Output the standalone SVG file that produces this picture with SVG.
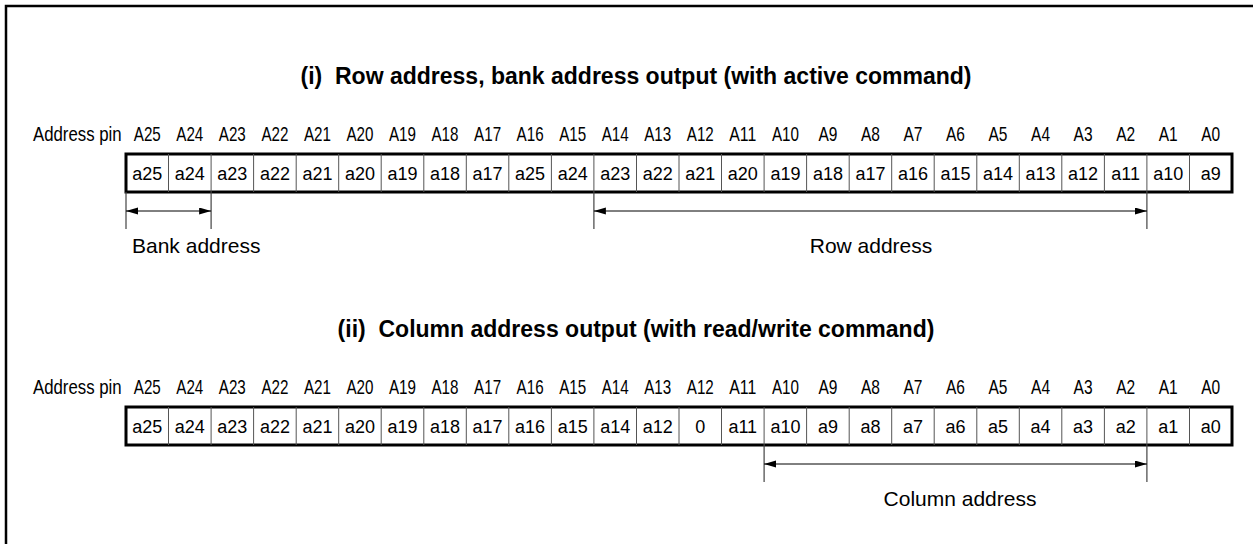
<svg xmlns="http://www.w3.org/2000/svg" width="1253" height="544" viewBox="0 0 1253 544">
<style>
text{font-family:"Liberation Sans",Arial,sans-serif;fill:#000}
.title{font-size:23px;font-weight:bold;text-anchor:middle}
.pin{font-size:21px;text-anchor:middle}
.pinlab{font-size:21px}
.cell{font-size:18px;text-anchor:middle}
.lab{font-size:21px}
.frame{fill:none;stroke:#000;stroke-width:2.5}
.tbl{fill:#fff;stroke:#000;stroke-width:3}
.div{fill:none;stroke:#555;stroke-width:1}
.tick{fill:none;stroke:#444;stroke-width:1.2}
.arr{fill:none;stroke:#000;stroke-width:1;marker-start:url(#ah);marker-end:url(#ah)}
</style>
<defs>
<marker id="ah" markerUnits="userSpaceOnUse" markerWidth="13" markerHeight="8" refX="12" refY="3.5" orient="auto-start-reverse">
<path d="M0,0 L12,3.5 L0,7 z" fill="#000"/>
</marker>
</defs>
<rect class="frame" x="6" y="6" width="1260" height="560"/>

<g id="section1">
<text class="title" x="636" y="84" xml:space="preserve">(i)  Row address, bank address output (with active command)</text>
<g id="pins1">
<text class="pinlab" transform="translate(33,141) scale(0.8,1)">Address pin</text>
<text class="pin" y="141" textLength="27" lengthAdjust="spacingAndGlyphs" x="147.3">A25</text>
<text class="pin" y="141" textLength="27" lengthAdjust="spacingAndGlyphs" x="189.8">A24</text>
<text class="pin" y="141" textLength="27" lengthAdjust="spacingAndGlyphs" x="232.3">A23</text>
<text class="pin" y="141" textLength="27" lengthAdjust="spacingAndGlyphs" x="274.9">A22</text>
<text class="pin" y="141" textLength="27" lengthAdjust="spacingAndGlyphs" x="317.4">A21</text>
<text class="pin" y="141" textLength="27" lengthAdjust="spacingAndGlyphs" x="360.0">A20</text>
<text class="pin" y="141" textLength="27" lengthAdjust="spacingAndGlyphs" x="402.5">A19</text>
<text class="pin" y="141" textLength="27" lengthAdjust="spacingAndGlyphs" x="445.0">A18</text>
<text class="pin" y="141" textLength="27" lengthAdjust="spacingAndGlyphs" x="487.6">A17</text>
<text class="pin" y="141" textLength="27" lengthAdjust="spacingAndGlyphs" x="530.1">A16</text>
<text class="pin" y="141" textLength="27" lengthAdjust="spacingAndGlyphs" x="572.7">A15</text>
<text class="pin" y="141" textLength="27" lengthAdjust="spacingAndGlyphs" x="615.2">A14</text>
<text class="pin" y="141" textLength="27" lengthAdjust="spacingAndGlyphs" x="657.7">A13</text>
<text class="pin" y="141" textLength="27" lengthAdjust="spacingAndGlyphs" x="700.3">A12</text>
<text class="pin" y="141" textLength="27" lengthAdjust="spacingAndGlyphs" x="742.8">A11</text>
<text class="pin" y="141" textLength="27" lengthAdjust="spacingAndGlyphs" x="785.4">A10</text>
<text class="pin" y="141" textLength="19" lengthAdjust="spacingAndGlyphs" x="827.9">A9</text>
<text class="pin" y="141" textLength="19" lengthAdjust="spacingAndGlyphs" x="870.4">A8</text>
<text class="pin" y="141" textLength="19" lengthAdjust="spacingAndGlyphs" x="913.0">A7</text>
<text class="pin" y="141" textLength="19" lengthAdjust="spacingAndGlyphs" x="955.5">A6</text>
<text class="pin" y="141" textLength="19" lengthAdjust="spacingAndGlyphs" x="998.0">A5</text>
<text class="pin" y="141" textLength="19" lengthAdjust="spacingAndGlyphs" x="1040.6">A4</text>
<text class="pin" y="141" textLength="19" lengthAdjust="spacingAndGlyphs" x="1083.1">A3</text>
<text class="pin" y="141" textLength="19" lengthAdjust="spacingAndGlyphs" x="1125.7">A2</text>
<text class="pin" y="141" textLength="19" lengthAdjust="spacingAndGlyphs" x="1168.2">A1</text>
<text class="pin" y="141" textLength="19" lengthAdjust="spacingAndGlyphs" x="1210.7">A0</text>
</g>
<g id="register1">
<rect class="tbl" x="126" y="154" width="1106" height="38"/>
<path class="div" d="M168.5,154V192M211.1,154V192M253.6,154V192M296.2,154V192M338.7,154V192M381.2,154V192M423.8,154V192M466.3,154V192M508.8,154V192M551.4,154V192M593.9,154V192M636.5,154V192M679,154V192M721.5,154V192M764.1,154V192M806.6,154V192M849.2,154V192M891.7,154V192M934.2,154V192M976.8,154V192M1019.3,154V192M1061.8,154V192M1104.4,154V192M1146.9,154V192M1189.5,154V192"/>
<g class="cells">
<text class="cell" y="180" x="147.3">a25</text>
<text class="cell" y="180" x="189.8">a24</text>
<text class="cell" y="180" x="232.3">a23</text>
<text class="cell" y="180" x="274.9">a22</text>
<text class="cell" y="180" x="317.4">a21</text>
<text class="cell" y="180" x="360.0">a20</text>
<text class="cell" y="180" x="402.5">a19</text>
<text class="cell" y="180" x="445.0">a18</text>
<text class="cell" y="180" x="487.6">a17</text>
<text class="cell" y="180" x="530.1">a25</text>
<text class="cell" y="180" x="572.7">a24</text>
<text class="cell" y="180" x="615.2">a23</text>
<text class="cell" y="180" x="657.7">a22</text>
<text class="cell" y="180" x="700.3">a21</text>
<text class="cell" y="180" x="742.8">a20</text>
<text class="cell" y="180" x="785.4">a19</text>
<text class="cell" y="180" x="827.9">a18</text>
<text class="cell" y="180" x="870.4">a17</text>
<text class="cell" y="180" x="913.0">a16</text>
<text class="cell" y="180" x="955.5">a15</text>
<text class="cell" y="180" x="998.0">a14</text>
<text class="cell" y="180" x="1040.6">a13</text>
<text class="cell" y="180" x="1083.1">a12</text>
<text class="cell" y="180" x="1125.7">a11</text>
<text class="cell" y="180" x="1168.2">a10</text>
<text class="cell" y="180" x="1210.7">a9</text>
</g>
</g>
<g id="bank-address">
<text class="lab" x="132" y="253">Bank address</text>
</g>
<g id="row-address">
<text class="lab" x="871" y="253" text-anchor="middle">Row address</text>
</g>
</g>

<g id="section2">
<text class="title" x="636" y="337" xml:space="preserve">(ii)  Column address output (with read/write command)</text>
<g id="pins2">
<text class="pinlab" transform="translate(33,394) scale(0.8,1)">Address pin</text>
<text class="pin" y="394" textLength="27" lengthAdjust="spacingAndGlyphs" x="147.3">A25</text>
<text class="pin" y="394" textLength="27" lengthAdjust="spacingAndGlyphs" x="189.8">A24</text>
<text class="pin" y="394" textLength="27" lengthAdjust="spacingAndGlyphs" x="232.3">A23</text>
<text class="pin" y="394" textLength="27" lengthAdjust="spacingAndGlyphs" x="274.9">A22</text>
<text class="pin" y="394" textLength="27" lengthAdjust="spacingAndGlyphs" x="317.4">A21</text>
<text class="pin" y="394" textLength="27" lengthAdjust="spacingAndGlyphs" x="360.0">A20</text>
<text class="pin" y="394" textLength="27" lengthAdjust="spacingAndGlyphs" x="402.5">A19</text>
<text class="pin" y="394" textLength="27" lengthAdjust="spacingAndGlyphs" x="445.0">A18</text>
<text class="pin" y="394" textLength="27" lengthAdjust="spacingAndGlyphs" x="487.6">A17</text>
<text class="pin" y="394" textLength="27" lengthAdjust="spacingAndGlyphs" x="530.1">A16</text>
<text class="pin" y="394" textLength="27" lengthAdjust="spacingAndGlyphs" x="572.7">A15</text>
<text class="pin" y="394" textLength="27" lengthAdjust="spacingAndGlyphs" x="615.2">A14</text>
<text class="pin" y="394" textLength="27" lengthAdjust="spacingAndGlyphs" x="657.7">A13</text>
<text class="pin" y="394" textLength="27" lengthAdjust="spacingAndGlyphs" x="700.3">A12</text>
<text class="pin" y="394" textLength="27" lengthAdjust="spacingAndGlyphs" x="742.8">A11</text>
<text class="pin" y="394" textLength="27" lengthAdjust="spacingAndGlyphs" x="785.4">A10</text>
<text class="pin" y="394" textLength="19" lengthAdjust="spacingAndGlyphs" x="827.9">A9</text>
<text class="pin" y="394" textLength="19" lengthAdjust="spacingAndGlyphs" x="870.4">A8</text>
<text class="pin" y="394" textLength="19" lengthAdjust="spacingAndGlyphs" x="913.0">A7</text>
<text class="pin" y="394" textLength="19" lengthAdjust="spacingAndGlyphs" x="955.5">A6</text>
<text class="pin" y="394" textLength="19" lengthAdjust="spacingAndGlyphs" x="998.0">A5</text>
<text class="pin" y="394" textLength="19" lengthAdjust="spacingAndGlyphs" x="1040.6">A4</text>
<text class="pin" y="394" textLength="19" lengthAdjust="spacingAndGlyphs" x="1083.1">A3</text>
<text class="pin" y="394" textLength="19" lengthAdjust="spacingAndGlyphs" x="1125.7">A2</text>
<text class="pin" y="394" textLength="19" lengthAdjust="spacingAndGlyphs" x="1168.2">A1</text>
<text class="pin" y="394" textLength="19" lengthAdjust="spacingAndGlyphs" x="1210.7">A0</text>
</g>
<g id="register2">
<rect class="tbl" x="126" y="407" width="1106" height="38"/>
<path class="div" d="M168.5,407V445M211.1,407V445M253.6,407V445M296.2,407V445M338.7,407V445M381.2,407V445M423.8,407V445M466.3,407V445M508.8,407V445M551.4,407V445M593.9,407V445M636.5,407V445M679,407V445M721.5,407V445M764.1,407V445M806.6,407V445M849.2,407V445M891.7,407V445M934.2,407V445M976.8,407V445M1019.3,407V445M1061.8,407V445M1104.4,407V445M1146.9,407V445M1189.5,407V445"/>
<g class="cells">
<text class="cell" y="433" x="147.3">a25</text>
<text class="cell" y="433" x="189.8">a24</text>
<text class="cell" y="433" x="232.3">a23</text>
<text class="cell" y="433" x="274.9">a22</text>
<text class="cell" y="433" x="317.4">a21</text>
<text class="cell" y="433" x="360.0">a20</text>
<text class="cell" y="433" x="402.5">a19</text>
<text class="cell" y="433" x="445.0">a18</text>
<text class="cell" y="433" x="487.6">a17</text>
<text class="cell" y="433" x="530.1">a16</text>
<text class="cell" y="433" x="572.7">a15</text>
<text class="cell" y="433" x="615.2">a14</text>
<text class="cell" y="433" x="657.7">a12</text>
<text class="cell" y="433" x="700.3">0</text>
<text class="cell" y="433" x="742.8">a11</text>
<text class="cell" y="433" x="785.4">a10</text>
<text class="cell" y="433" x="827.9">a9</text>
<text class="cell" y="433" x="870.4">a8</text>
<text class="cell" y="433" x="913.0">a7</text>
<text class="cell" y="433" x="955.5">a6</text>
<text class="cell" y="433" x="998.0">a5</text>
<text class="cell" y="433" x="1040.6">a4</text>
<text class="cell" y="433" x="1083.1">a3</text>
<text class="cell" y="433" x="1125.7">a2</text>
<text class="cell" y="433" x="1168.2">a1</text>
<text class="cell" y="433" x="1210.7">a0</text>
</g>
</g>
<g id="column-address">
<text class="lab" x="960" y="506" text-anchor="middle">Column address</text>
</g>
</g>

<g id="connectors">
<path class="tick" d="M126,192V229M211.1,192V229M593.9,192V229M1146.9,192V229M764.1,445V482M1146.9,445V482"/>
<line class="arr" x1="126" y1="211" x2="211.1" y2="211"/>
<line class="arr" x1="593.9" y1="211" x2="1146.9" y2="211"/>
<line class="arr" x1="764.1" y1="464" x2="1146.9" y2="464"/>
</g>
</svg>
